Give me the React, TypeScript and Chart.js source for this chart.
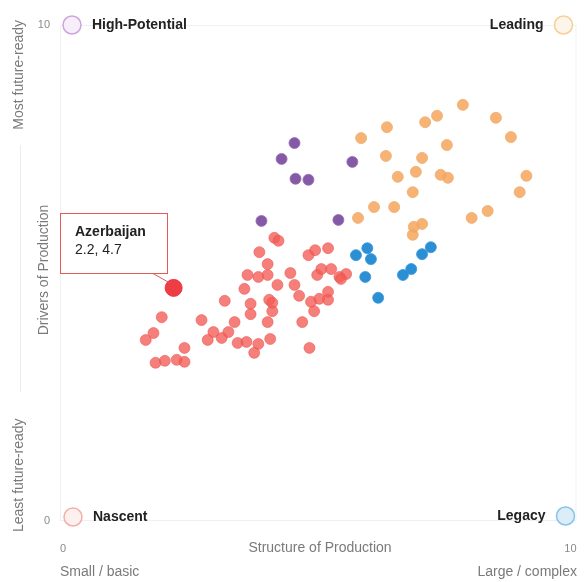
import React, { useEffect, useRef } from "react";
import { Chart, registerables } from "chart.js";

Chart.register(...registerables);

const nascentX = [4.15, 4.23, 3.86, 4.81, 4.94, 5.19, 4.02, 3.63, 3.84, 4.02, 4.46, 4.21, 4.54, 4.98, 5.06, 5.25, 5.41, 5.54, 3.57, 4.63, 4.05, 4.11, 3.69, 3.69, 4.11, 4.86, 5.02, 5.19, 5.19, 4.92, 3.38, 4.02, 4.69, 3.19, 1.97, 2.74, 1.81, 1.66, 2.97, 3.26, 2.86, 3.13, 3.44, 3.61, 3.84, 4.07, 3.76, 4.83, 2.41, 1.85, 2.03, 2.26, 2.41, 5.44];
const nascentY = [5.71, 5.65, 5.42, 5.36, 5.46, 5.5, 5.18, 4.96, 4.92, 4.96, 5.0, 4.76, 4.76, 4.96, 5.08, 5.08, 4.92, 4.98, 4.68, 4.54, 4.46, 4.4, 4.38, 4.17, 4.23, 4.42, 4.48, 4.62, 4.46, 4.23, 4.01, 4.01, 4.01, 4.44, 4.11, 4.05, 3.79, 3.65, 3.81, 3.81, 3.65, 3.69, 3.59, 3.61, 3.57, 3.67, 3.39, 3.49, 3.49, 3.19, 3.23, 3.25, 3.21, 4.88];

const highX = [4.54, 4.29, 4.56, 4.81, 5.66, 3.9, 5.39];
const highY = [7.62, 7.3, 6.9, 6.88, 7.24, 6.05, 6.07];

const leadingX = [5.83, 6.33, 7.07, 7.3, 7.8, 8.44, 8.73, 7.49, 6.31, 7.01, 6.89, 7.37, 7.51, 6.54, 9.03, 6.83, 8.9, 6.08, 6.47, 5.77, 7.97, 8.28, 6.85, 7.01, 6.83];
const leadingY = [7.72, 7.94, 8.04, 8.17, 8.39, 8.13, 7.74, 7.58, 7.36, 7.32, 7.04, 6.98, 6.92, 6.94, 6.96, 6.63, 6.63, 6.33, 6.33, 6.11, 6.11, 6.25, 5.93, 5.99, 5.77];

const legacyX = [5.95, 5.73, 6.02, 5.91, 6.16, 7.18, 7.01, 6.8, 6.64];
const legacyY = [5.5, 5.36, 5.28, 4.92, 4.5, 5.52, 5.38, 5.08, 4.96];

const highlightName = "Azerbaijan";
const highlightX = 2.2;
const highlightY = 4.7;

const quadrantLabels = ["High-Potential", "Leading", "Nascent", "Legacy"];
const xTitle = "Structure of Production";
const xLow = "Small / basic";
const xHigh = "Large / complex";
const yTitle = "Drivers of Production";
const yLow = "Least future-ready";
const yHigh = "Most future-ready";

const toPoints = (xs: number[], ys: number[]) => xs.map((x, i) => ({ x, y: ys[i] }));

const FONT = "'Liberation Sans', Arial, sans-serif";

const decorPlugin = {
  id: "decor",
  beforeDatasetsDraw(chart: any) {
    const { ctx, chartArea: a } = chart;
    ctx.save();
    ctx.strokeStyle = "#eef1f3";
    ctx.lineWidth = 1;
    ctx.strokeRect(a.left + 0.5, a.top + 0.5, a.right - a.left - 1, a.bottom - a.top - 1);
    ctx.restore();
  },
  afterDraw(chart: any) {
    const { ctx, chartArea: a, scales } = chart;
    ctx.save();
    ctx.fillStyle = "#7a7a7a";
    ctx.font = `14px ${FONT}`;
    ctx.textBaseline = "middle";
    ctx.textAlign = "center";
    ctx.fillText(xTitle, 320, 548);
    ctx.textAlign = "left";
    ctx.fillText(xLow, 60, 572);
    ctx.textAlign = "right";
    ctx.fillText(xHigh, 577, 572);

    ctx.save();
    ctx.translate(19, 0);
    ctx.rotate(-Math.PI / 2);
    ctx.textAlign = "right";
    ctx.fillText(yHigh, -20, 0);
    ctx.textAlign = "left";
    ctx.fillText(yLow, -532, 0);
    ctx.restore();
    ctx.save();
    ctx.translate(44, 270);
    ctx.rotate(-Math.PI / 2);
    ctx.textAlign = "center";
    ctx.fillText(yTitle, 0, 0);
    ctx.restore();
    ctx.strokeStyle = "#ececec";
    ctx.beginPath();
    ctx.moveTo(20.5, 145);
    ctx.lineTo(20.5, 392);
    ctx.stroke();

    const quads = [
      { t: quadrantLabels[0], cx: a.left + 12, cy: a.top, side: "left", stroke: "#cda4dc", fill: "#f6eef9" },
      { t: quadrantLabels[1], cx: a.right - 13, cy: a.top, side: "right", stroke: "#f6cf96", fill: "#fdf5ea" },
      { t: quadrantLabels[2], cx: a.left + 13, cy: a.bottom - 4, side: "left", stroke: "#f4b0a8", fill: "#fdf1f0" },
      { t: quadrantLabels[3], cx: a.right - 11, cy: a.bottom - 5, side: "right", stroke: "#86c4ec", fill: "#dcedf8" },
    ];
    ctx.font = `bold 14px ${FONT}`;
    for (const q of quads) {
      ctx.beginPath();
      ctx.arc(q.cx, q.cy, 9, 0, Math.PI * 2);
      ctx.fillStyle = q.fill;
      ctx.fill();
      ctx.lineWidth = 1.5;
      ctx.strokeStyle = q.stroke;
      ctx.stroke();
      ctx.fillStyle = "#222";
      ctx.textBaseline = "middle";
      if (q.side === "left") {
        ctx.textAlign = "left";
        ctx.fillText(q.t, q.cx + 20, q.cy);
      } else {
        ctx.textAlign = "right";
        ctx.fillText(q.t, q.cx - 20, q.cy);
      }
    }

    const px = scales.x.getPixelForValue(highlightX);
    const py = scales.y.getPixelForValue(highlightY);
    const bx = a.left;
    const by = 213;
    const bw = 107;
    const bh = 60;
    ctx.fillStyle = "#fff";
    ctx.fillRect(bx, by, bw, bh);
    ctx.strokeStyle = "#e35a57";
    ctx.lineWidth = 1;
    ctx.strokeRect(bx + 0.5, by + 0.5, bw, bh);
    ctx.beginPath();
    ctx.moveTo(bx + bw - 14, by + bh + 0.5);
    ctx.lineTo(px - 4, py - 5);
    ctx.stroke();
    ctx.fillStyle = "#222";
    ctx.textAlign = "left";
    ctx.textBaseline = "middle";
    ctx.font = `bold 14px ${FONT}`;
    ctx.fillText(highlightName, bx + 15, by + 19);
    ctx.font = `14px ${FONT}`;
    ctx.fillText(`${highlightX}, ${highlightY}`, bx + 15, by + 37);
    ctx.restore();
  },
};

export default function App() {
  const ref = useRef<HTMLCanvasElement>(null);
  useEffect(() => {
    if (!ref.current) return;
    Chart.defaults.font.family = FONT;
    const chart = new Chart(ref.current, {
      type: "scatter",
      data: {
        datasets: [
          {
            label: "Nascent",
            data: toPoints(nascentX, nascentY),
            backgroundColor: "rgba(242,92,86,0.78)",
            borderColor: "rgba(236,80,76,0.55)",
            borderWidth: 1,
            pointRadius: 5.5,
          },
          {
            label: "High-Potential",
            data: toPoints(highX, highY),
            backgroundColor: "rgba(122,76,158,0.92)",
            borderColor: "rgba(150,110,180,0.8)",
            borderWidth: 1,
            pointRadius: 5.5,
          },
          {
            label: "Leading",
            data: toPoints(leadingX, leadingY),
            backgroundColor: "rgba(245,166,92,0.85)",
            borderColor: "rgba(240,172,112,0.8)",
            borderWidth: 1,
            pointRadius: 5.5,
          },
          {
            label: "Legacy",
            data: toPoints(legacyX, legacyY),
            backgroundColor: "rgba(24,134,208,0.92)",
            borderColor: "rgba(60,150,215,0.8)",
            borderWidth: 1,
            pointRadius: 5.5,
          },
          {
            label: highlightName,
            data: [{ x: highlightX, y: highlightY }],
            backgroundColor: "rgba(236,52,60,0.95)",
            borderColor: "rgba(236,52,60,0.95)",
            borderWidth: 1,
            pointRadius: 8.5,
          },
        ],
      },
      options: {
        animation: false,
        responsive: false,
        events: [],
        layout: { padding: { top: 25, right: 8, left: 0, bottom: 0 } },
        plugins: { legend: { display: false }, tooltip: { enabled: false } },
        scales: {
          x: {
            type: "linear",
            min: 0,
            max: 10,
            grid: { display: false, drawTicks: false },
            border: { display: false },
            ticks: {
              stepSize: 10,
              align: "inner",
              padding: 21,
              color: "#8a8a8a",
              font: { size: 11 },
            },
            afterFit: (s: any) => {
              s.height = 61;
              s.paddingLeft = 0;
              s.paddingRight = 0;
            },
          },
          y: {
            type: "linear",
            min: 0,
            max: 10,
            grid: { display: false, drawTicks: false },
            border: { display: false },
            ticks: {
              stepSize: 10,
              padding: 10,
              color: "#8a8a8a",
              font: { size: 11 },
            },
            afterFit: (s: any) => {
              s.width = 60;
              s.paddingTop = 0;
              s.paddingBottom = 0;
            },
          },
        },
      },
      plugins: [decorPlugin],
    });
    return () => chart.destroy();
  }, []);
  return (
    <div style={{ position: "fixed", left: 0, top: 0, width: 586, height: 582, background: "#fff" }}>
      <canvas ref={ref} width={586} height={582} />
    </div>
  );
}
